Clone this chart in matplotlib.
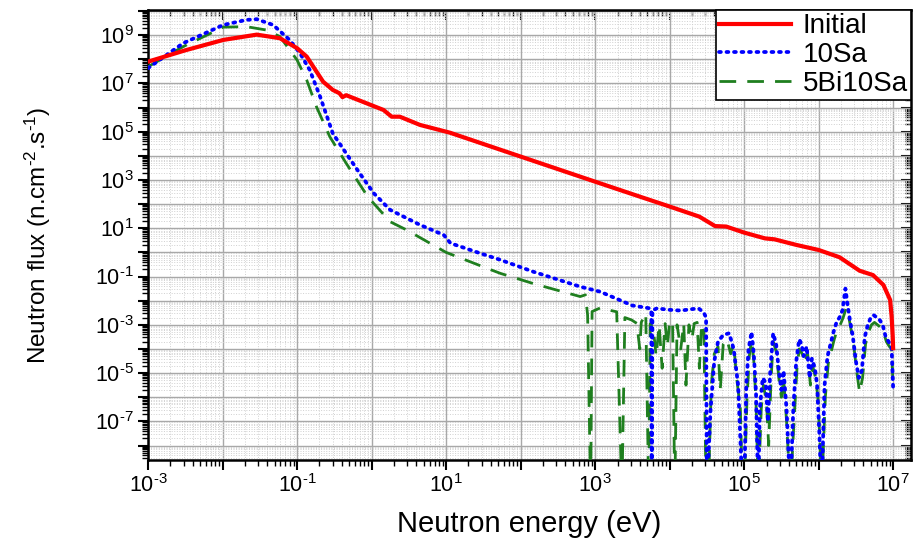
import numpy as np
import matplotlib
matplotlib.use('Agg')
import matplotlib.pyplot as plt
from matplotlib.ticker import LogLocator, FuncFormatter, NullFormatter

# data, stored as log10 exponents (E in eV, flux in n.cm-2.s-1)
# -10 means the curve drops below the visible range

initial_logE = [-3.0, -2.5, -1.99, -1.54, -1.23, -1.0, -0.87, -0.65, -0.52, -0.43,
                -0.39, -0.34, -0.07, 0.16, 0.27, 0.38, 0.65, 1.05, 2.0, 3.0,
                3.6, 4.0, 4.4, 4.61, 4.76, 5.0, 5.28, 5.41, 5.7, 6.0,
                6.28, 6.55, 6.73, 6.87, 6.96, 6.98, 6.995, 7.0]
initial_logF = [7.9, 8.37, 8.8, 9.02, 8.87, 8.46, 8.11, 7.07, 6.73, 6.59,
                6.43, 6.51, 6.18, 5.90, 5.62, 5.62, 5.28, 4.96, 3.97, 2.93,
                2.31, 1.9, 1.48, 1.09, 1.07, 0.82, 0.58, 0.54, 0.31, 0.10,
                -0.2, -0.76, -0.94, -1.35, -1.97, -2.66, -3.5, -3.97]

sa10_logE = [-3.0, -2.53, -1.99, -1.68, -1.54, -1.32, -1.10, -0.96, -0.83, -0.69,
             -0.52, -0.34, -0.16, 0.03, 0.25, 0.65, 0.97, 1.06, 1.46, 1.73,
             2.17, 2.8, 3.07, 3.5, 3.74, 3.755, 3.76, 3.77, 3.83, 4.0,
             4.15, 4.3, 4.39, 4.46, 4.49, 4.5, 4.55, 4.6, 4.65, 4.72,
             4.8, 4.86, 4.92, 4.98, 5.0, 5.03, 5.06, 5.1, 5.13, 5.16,
             5.19, 5.21, 5.25, 5.29, 5.32, 5.35, 5.39, 5.43, 5.47, 5.5,
             5.53, 5.57, 5.62, 5.66, 5.7, 5.74, 5.77, 5.8, 5.84, 5.88,
             5.91, 5.95, 5.98, 6.01, 6.04, 6.08, 6.12, 6.16, 6.2, 6.24,
             6.28, 6.32, 6.36, 6.39, 6.42, 6.46, 6.5, 6.54, 6.58, 6.62,
             6.66, 6.7, 6.74, 6.78, 6.82, 6.86, 6.9, 6.94, 6.98, 7.0]
sa10_logF = [7.63, 8.66, 9.42, 9.63, 9.66, 9.42, 8.8, 8.25, 7.56, 6.45,
             4.93, 4.1, 3.28, 2.45, 1.76, 1.14, 0.72, 0.38, -0.04, -0.31,
             -0.8, -1.42, -1.63, -2.2, -2.32, -2.5, -10, -2.4, -2.32, -2.38,
             -2.41, -2.35, -2.32, -2.5, -2.7, -10, -6.5, -4.5, -3.7, -3.42,
             -3.35, -4.0, -5.5, -10, -10, -5.5, -4.0, -3.3, -4.2, -5.8,
             -10, -6.5, -5.2, -5.4, -7.0, -5.0, -3.35, -3.8, -5.0, -5.7,
             -4.9, -6.5, -10, -6.5, -4.5, -3.6, -3.8, -4.3, -3.9, -5.2,
             -4.4, -4.8, -5.5, -7.5, -10, -5.5, -4.3, -3.8, -3.3, -2.9,
             -2.7, -2.4, -1.5, -2.2, -2.8, -3.5, -4.5, -5.2, -4.9, -3.5,
             -3.0, -2.7, -2.6, -2.7, -2.8, -3.0, -3.5, -3.7, -3.95, -5.6]

bi5sa10_logE = [-3.0, -2.53, -1.99, -1.68, -1.41, -1.23, -1.0, -0.87, -0.74, -0.56,
                -0.34, -0.05, 0.25, 0.47, 1.0, 1.55, 1.73, 2.18, 2.8, 2.87,
                2.9, 2.94, 2.96, 3.07, 3.2, 3.29, 3.36, 3.4, 3.49, 3.56,
                3.6, 3.62, 3.68, 3.72, 3.74, 3.78, 3.82, 3.86, 3.9, 3.94,
                3.97, 4.0, 4.04, 4.07, 4.1, 4.15, 4.19, 4.22, 4.26, 4.3,
                4.33, 4.37, 4.4, 4.43, 4.46, 4.49, 4.52, 4.56, 4.6, 4.65,
                4.68, 4.72, 4.77, 4.82, 4.86, 4.9, 4.95, 4.98, 5.0, 5.04,
                5.07, 5.1, 5.13, 5.16, 5.19, 5.23, 5.26, 5.3, 5.33, 5.36,
                5.39, 5.43, 5.47, 5.5, 5.53, 5.57, 5.62, 5.67, 5.71, 5.74,
                5.78, 5.82, 5.85, 5.89, 5.92, 5.96, 5.99, 6.02, 6.04, 6.09,
                6.13, 6.17, 6.21, 6.25, 6.29, 6.33, 6.37, 6.4, 6.43, 6.47,
                6.51, 6.55, 6.59, 6.63, 6.67, 6.71, 6.75, 6.79, 6.83, 6.87,
                6.91, 6.95, 6.98, 7.0]
bi5sa10_logF = [7.69, 8.52, 9.33, 9.35, 9.21, 8.94, 7.97, 7.14, 6.04, 4.79,
                3.69, 2.3, 1.27, 0.93, 0.0, -0.66, -0.87, -1.3, -1.83, -1.76,
                -2.6, -10, -2.45, -2.3, -2.4, -2.46, -10, -2.7, -2.8, -2.94,
                -4.0, -2.9, -2.52, -10, -2.95, -3.1, -4.3, -3.0, -4.8, -2.95,
                -3.9, -2.9, -2.85, -10, -3.0, -4.0, -2.95, -5.5, -3.0, -3.6,
                -2.95, -2.9, -4.8, -2.95, -3.3, -10, -10, -5.5, -4.2, -3.9,
                -5.7, -3.8, -3.6, -4.2, -3.8, -5.2, -6.5, -10, -10, -6.0,
                -4.3, -3.6, -4.5, -6.2, -10, -6.5, -5.5, -6.2, -8.0, -5.4,
                -3.7, -4.1, -5.3, -6.0, -5.2, -7.0, -10, -7.0, -4.8, -4.0,
                -4.2, -4.6, -4.1, -5.5, -4.7, -5.2, -6.0, -8.0, -10, -6.0,
                -4.6, -4.1, -3.6, -3.2, -3.0, -2.7, -2.3, -2.6, -3.1, -3.8,
                -4.9, -5.8, -5.2, -3.8, -3.3, -3.0, -2.9, -3.0, -3.1, -3.3,
                -3.7, -3.9, -4.0, -5.6]

plt.rcParams['font.family'] = ['Liberation Sans', 'DejaVu Sans']
plt.rcParams['mathtext.fontset'] = 'custom'
plt.rcParams['mathtext.rm'] = 'Liberation Sans'
plt.rcParams['mathtext.it'] = 'Liberation Sans:italic'
plt.rcParams['mathtext.bf'] = 'Liberation Sans:bold'

fig = plt.figure(figsize=(9.13, 5.39), dpi=100)
ax = fig.add_axes([148/913, 79/539, 763/913, 450/539])

h3, = ax.plot(10**np.array(bi5sa10_logE), 10**np.array(bi5sa10_logF), color='#1f7f1f',
              lw=2.0, linestyle=(0, (6, 4)), label='5Bi10Sa', zorder=3)
h2, = ax.plot(10**np.array(sa10_logE), 10**np.array(sa10_logF), color='#0000ff',
              lw=2.7, linestyle=(0, (0.5, 1.5)), dash_capstyle='round', label='10Sa', zorder=4)
h1, = ax.plot(10**np.array(initial_logE), 10**np.array(initial_logF), color='#ff0000',
              lw=3.0, label='Initial', zorder=5)

ax.set_xscale('log')
ax.set_yscale('log')
ax.set_xlim(1e-3, 10**7.24)
ax.set_ylim(10**-8.6, 10**10.04)


def odd_label(v, pos):
    e = int(round(np.log10(v)))
    if e % 2 == 0:
        return ''
    return r'$\mathregular{10^{%s}}$' % (r'\text{-}%d' % -e if e < 0 else '%d' % e)


for axis in (ax.xaxis, ax.yaxis):
    axis.set_major_locator(LogLocator(base=10, numticks=100))
    axis.set_minor_locator(LogLocator(base=10, subs=np.arange(2, 10), numticks=100))
    axis.set_major_formatter(FuncFormatter(odd_label))
    axis.set_minor_formatter(NullFormatter())

ax.grid(True, which='major', color='#a8a8a8', lw=1.0, ls='-', zorder=0)
ax.grid(True, which='minor', color='#d0d0d0', lw=0.7, ls=':', zorder=0)
ax.set_axisbelow(True)

ax.tick_params(which='major', direction='out', length=7, width=1.5, labelsize=15.5, colors='black')
ax.tick_params(which='minor', direction='out', length=4, width=1.0)
for s in ax.spines.values():
    s.set_linewidth(1.8)

# inward ticks on top and right
top = ax.secondary_xaxis('top')
right = ax.secondary_yaxis('right')
for sec, axis in ((top, top.xaxis), (right, right.yaxis)):
    axis.set_major_locator(LogLocator(base=10, numticks=100))
    axis.set_minor_locator(LogLocator(base=10, subs=np.arange(2, 10), numticks=100))
    axis.set_major_formatter(NullFormatter())
    axis.set_minor_formatter(NullFormatter())
    sec.tick_params(which='major', direction='in', length=7, width=1.5)
    sec.tick_params(which='minor', direction='in', length=4, width=1.0)

ax.set_xlabel('Neutron energy (eV)', fontsize=21, labelpad=9)
ax.set_ylabel(r'Neutron flux (n.cm$^{\mathregular{\text{-}2}}$.s$^{\mathregular{\text{-}1}}$)',
              fontsize=17.5, labelpad=30)

leg = ax.legend(handles=[h1, h2, h3], loc='upper right', bbox_to_anchor=(1.0, 1.0),
                borderaxespad=0.0, fontsize=20, handlelength=2.6, handletextpad=0.4,
                fancybox=False, framealpha=1.0, edgecolor='black',
                labelspacing=0.1, borderpad=0.12)
leg.get_frame().set_linewidth(1.2)
leg.set_zorder(10)

fig.savefig('out.png', dpi=100)
